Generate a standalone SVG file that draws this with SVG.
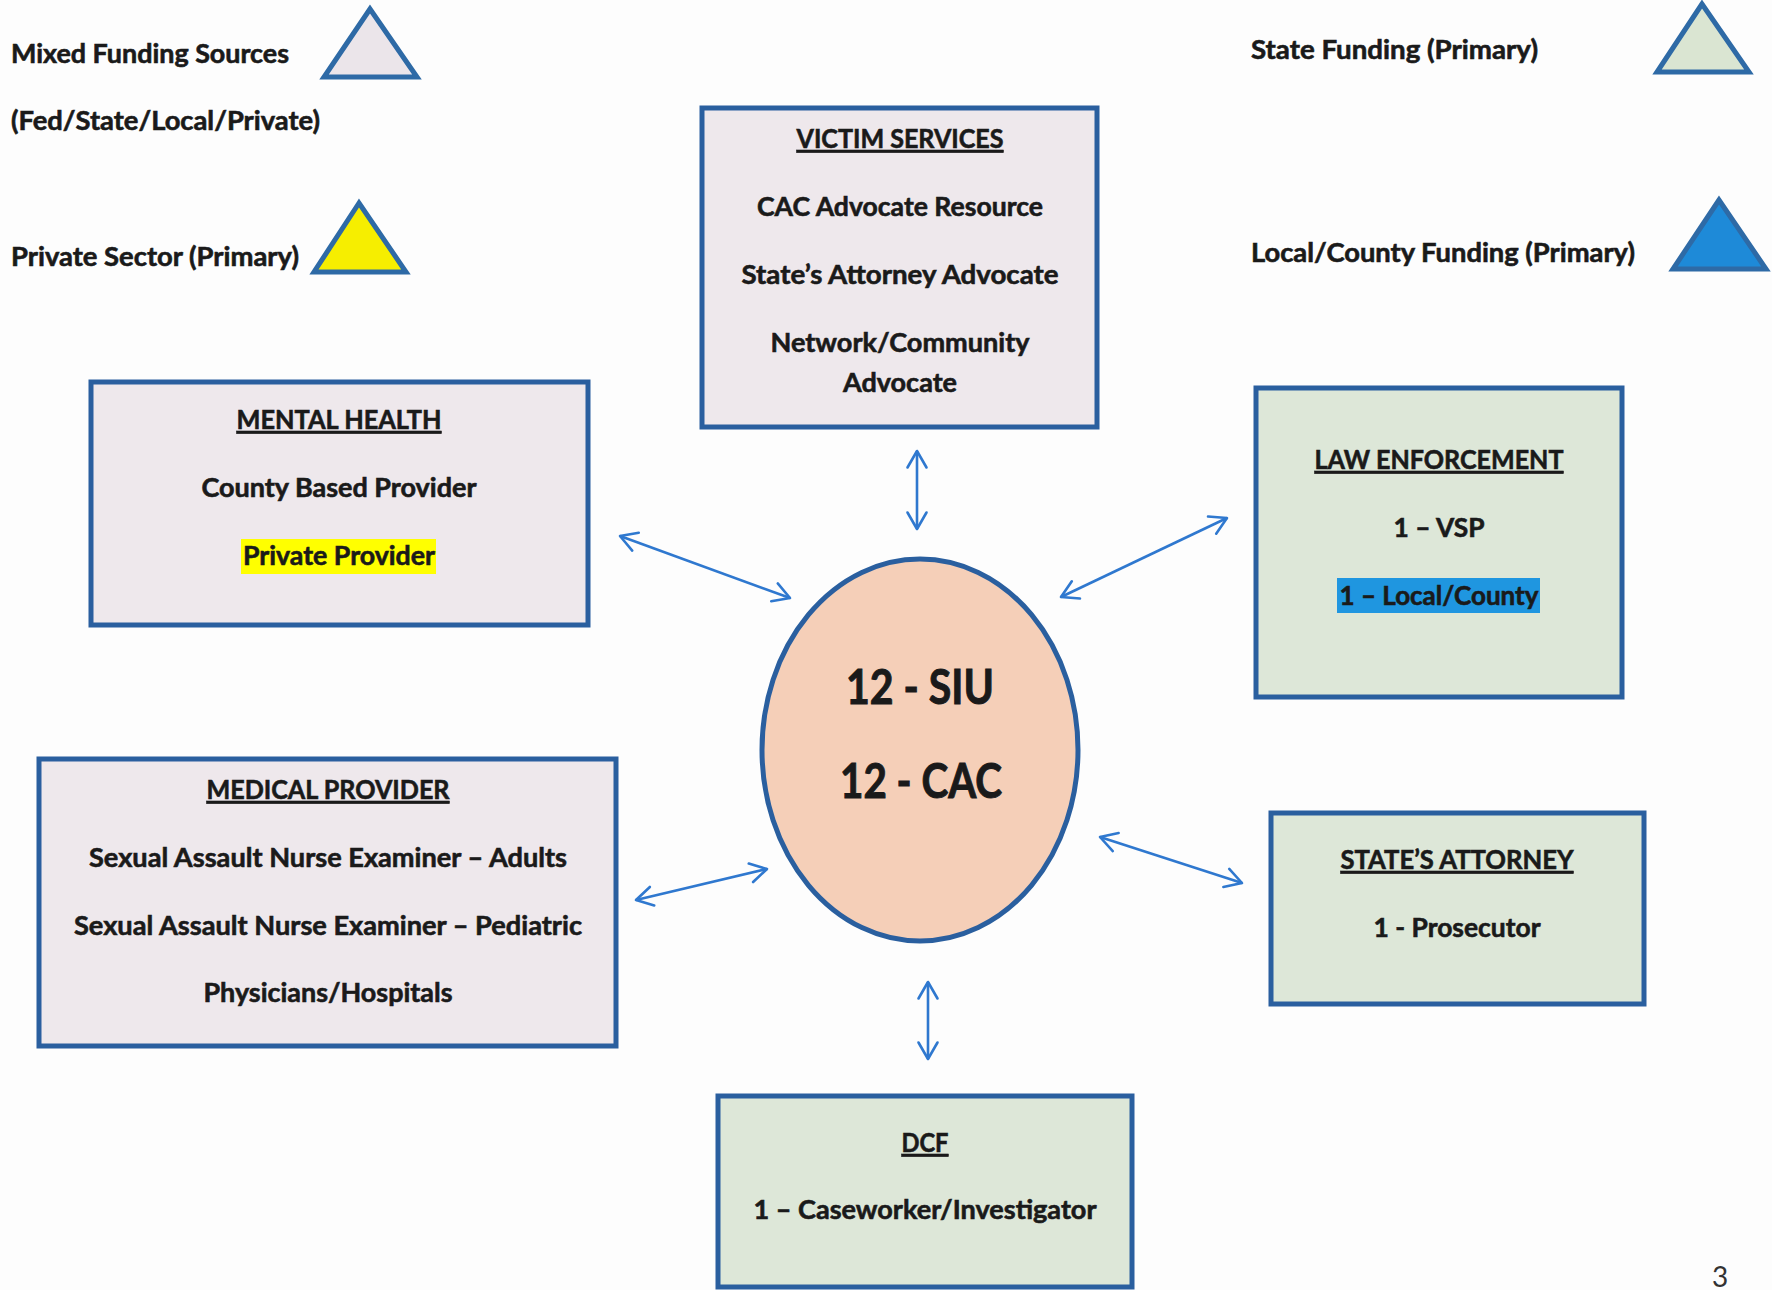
<svg xmlns="http://www.w3.org/2000/svg" width="1772" height="1290" viewBox="0 0 1772 1290">
<defs>
<style>
text{font-family:Lato,"Open Sans","Liberation Sans",sans-serif;font-weight:bold;fill:#1a1a1a;stroke:#1a1a1a;stroke-width:0.6;}
.t{font-size:26.5px;text-anchor:middle;}
.h{text-decoration:underline;}
.lg{font-size:26.5px;}
.big{font-size:48px;text-anchor:middle;stroke-width:1;}
.pn{font-size:28px;font-weight:normal;fill:#333;stroke:none;}
.mix{fill:#eee8ec;stroke:#2a5f9f;stroke-width:5;}
.st{fill:#dde7d8;stroke:#2a5f9f;stroke-width:5;}
.tri{stroke:#2e6aa6;stroke-width:5;stroke-linejoin:miter;}
.con{stroke:#2f78cf;stroke-width:2.6;fill:none;marker-start:url(#ah);marker-end:url(#ah);}
</style>
<marker id="ah" markerUnits="userSpaceOnUse" viewBox="-20 -12 22 24" refX="0" refY="0" markerWidth="22" markerHeight="24" orient="auto-start-reverse" overflow="visible">
<path d="M-16.5,-9.5 L0,0 L-16.5,9.5" fill="none" stroke="#2f78cf" stroke-width="2.6" stroke-linecap="round" stroke-linejoin="round"/>
</marker>
</defs>
<rect x="0" y="0" width="1772" height="1290" fill="#fdfdfd"/>

<g id="legend-mixed">
<text class="lg" x="11" y="63" textLength="278" lengthAdjust="spacingAndGlyphs">Mixed Funding Sources</text>
<text class="lg" x="11" y="130" textLength="309" lengthAdjust="spacingAndGlyphs">(Fed/State/Local/Private)</text>
<polygon class="tri" points="370,9 324,77 417,77" fill="#ebe5ea"/>
</g>
<g id="legend-private">
<text class="lg" x="11" y="266" textLength="288" lengthAdjust="spacingAndGlyphs">Private Sector (Primary)</text>
<polygon class="tri" points="359,203 314,272 406,272" fill="#f6ee00"/>
</g>
<g id="legend-state">
<text class="lg" x="1251" y="59" textLength="287" lengthAdjust="spacingAndGlyphs">State Funding (Primary)</text>
<polygon class="tri" points="1702,4 1657,72 1749,72" fill="#dae5d2"/>
</g>
<g id="legend-local">
<text class="lg" x="1251" y="262" textLength="384" lengthAdjust="spacingAndGlyphs">Local/County Funding (Primary)</text>
<polygon class="tri" points="1719,200 1673,269 1766,269" fill="#1e8ad8" stroke="#2a6aab"/>
</g>

<g id="connectors">
<line class="con" x1="917" y1="451" x2="917" y2="529"/>
<line class="con" x1="620" y1="536" x2="790" y2="598"/>
<line class="con" x1="1227" y1="518" x2="1061" y2="597"/>
<line class="con" x1="636" y1="900" x2="767" y2="869"/>
<line class="con" x1="1100" y1="837" x2="1242" y2="883"/>
<line class="con" x1="928" y1="982" x2="928" y2="1059"/>
</g>

<g id="victim-services">
<rect class="mix" x="702" y="108" width="395" height="319"/>
<text class="t h" x="900" y="148" textLength="207" lengthAdjust="spacingAndGlyphs">VICTIM SERVICES</text>
<text class="t" x="900" y="216" textLength="286" lengthAdjust="spacingAndGlyphs">CAC Advocate Resource</text>
<text class="t" x="900" y="284" textLength="317" lengthAdjust="spacingAndGlyphs">State’s Attorney Advocate</text>
<text class="t" x="900" y="352" textLength="259" lengthAdjust="spacingAndGlyphs">Network/Community</text>
<text class="t" x="900" y="392" textLength="114" lengthAdjust="spacingAndGlyphs">Advocate</text>
</g>

<g id="mental-health">
<rect class="mix" x="91" y="382" width="497" height="243"/>
<text class="t h" x="339" y="429" textLength="205" lengthAdjust="spacingAndGlyphs">MENTAL HEALTH</text>
<text class="t" x="339" y="497" textLength="275" lengthAdjust="spacingAndGlyphs">County Based Provider</text>
<rect x="241" y="539" width="195" height="35" fill="#ffff00"/>
<text class="t" x="339" y="565" textLength="192" lengthAdjust="spacingAndGlyphs">Private Provider</text>
</g>

<g id="medical-provider">
<rect class="mix" x="39" y="759" width="577" height="287"/>
<text class="t h" x="328" y="799" textLength="243" lengthAdjust="spacingAndGlyphs">MEDICAL PROVIDER</text>
<text class="t" x="328" y="867" textLength="478" lengthAdjust="spacingAndGlyphs">Sexual Assault Nurse Examiner – Adults</text>
<text class="t" x="328" y="935" textLength="508" lengthAdjust="spacingAndGlyphs">Sexual Assault Nurse Examiner – Pediatric</text>
<text class="t" x="328" y="1002" textLength="249" lengthAdjust="spacingAndGlyphs">Physicians/Hospitals</text>
</g>

<g id="center">
<ellipse cx="920" cy="750" rx="158" ry="191" fill="#f5cfb8" stroke="#2a5f9f" stroke-width="5"/>
<text class="big" x="920" y="704" textLength="148" lengthAdjust="spacingAndGlyphs">12 - SIU</text>
<text class="big" x="921" y="798" textLength="162" lengthAdjust="spacingAndGlyphs">12 - CAC</text>
</g>

<g id="law-enforcement">
<rect class="st" x="1256" y="388" width="366" height="309"/>
<text class="t h" x="1439" y="469" textLength="249" lengthAdjust="spacingAndGlyphs">LAW ENFORCEMENT</text>
<text class="t" x="1439" y="537" textLength="91" lengthAdjust="spacingAndGlyphs">1 – VSP</text>
<rect x="1337" y="578" width="203" height="35" fill="#1f96e0"/>
<text class="t" x="1439" y="605" textLength="199" lengthAdjust="spacingAndGlyphs">1 – Local/County</text>
</g>

<g id="states-attorney">
<rect class="st" x="1271" y="813" width="373" height="191"/>
<text class="t h" x="1457" y="869" textLength="233" lengthAdjust="spacingAndGlyphs">STATE’S ATTORNEY</text>
<text class="t" x="1457" y="937" textLength="167" lengthAdjust="spacingAndGlyphs">1 - Prosecutor</text>
</g>

<g id="dcf">
<rect class="st" x="718" y="1096" width="414" height="191"/>
<text class="t h" x="925" y="1152" textLength="47" lengthAdjust="spacingAndGlyphs">DCF</text>
<text class="t" x="925" y="1219" textLength="343" lengthAdjust="spacingAndGlyphs">1 – Caseworker/Investigator</text>
</g>

<text class="pn" x="1712" y="1287">3</text>
</svg>
